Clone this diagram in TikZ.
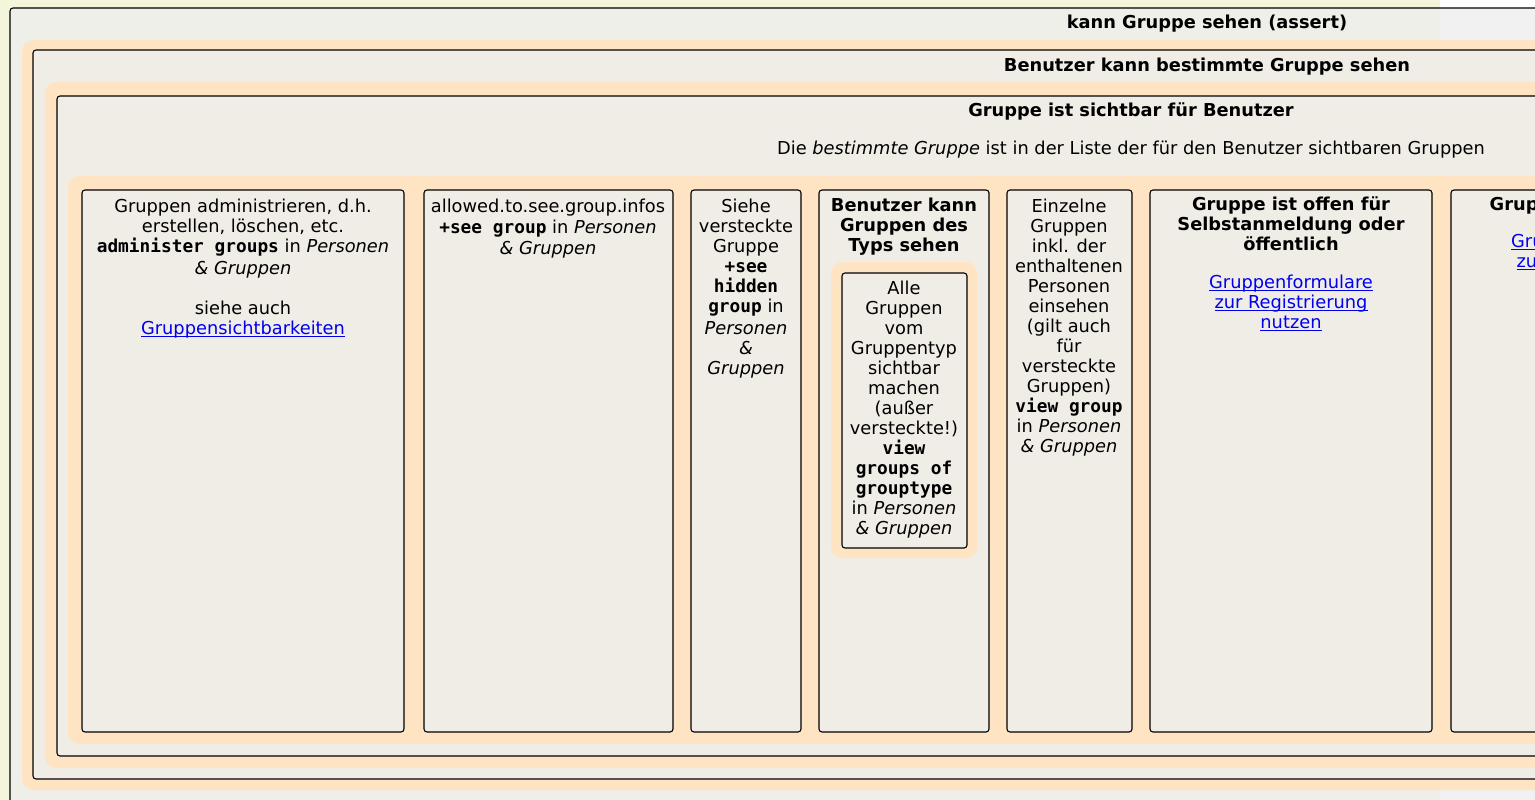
\documentclass[tikz,border=0pt]{standalone}
\usepackage{fontspec}
\setmainfont{DejaVu Sans}
\setmonofont{DejaVu Sans Mono}
\definecolor{bgyellow}{HTML}{F5F5DC}
\definecolor{outerfill}{HTML}{EFEFEA}
\definecolor{outerfillw}{HTML}{F1F1F1}
\definecolor{boxfill}{HTML}{F0EDE6}
\definecolor{halo}{HTML}{FFE4C4}
\definecolor{linkblue}{HTML}{0000EE}
\newcommand\mb[1]{\texttt{\bfseries #1}}
\newcommand\lnk[1]{\textcolor{linkblue}{\setbox0\hbox{#1}\rlap{\rule[-3pt]{\wd0}{1pt}}\box0}}
\begin{document}
\begin{tikzpicture}[x=1pt,y=-1pt,
  cluster/.style={draw=black, line width=1.1pt, fill=boxfill, rounded corners=3pt},
  halobox/.style={fill=halo, rounded corners=11pt},
  txt/.style={inner sep=0pt, align=center, font=\fontsize{17.8}{20}\selectfont},
  ttl/.style={txt, font=\fontsize{17.8}{20}\selectfont\bfseries}]
\useasboundingbox (0,0) rectangle (1535,800);
\clip (0,0) rectangle (1535,800);
% page background
\fill[bgyellow] (0,0) rectangle (1440,800);
\fill[white] (1440,0) rectangle (1535,800);
% outer cluster
\begin{scope}
\clip[rounded corners=3pt] (10,8) rectangle (1700,900);
\fill[outerfill] (10,8) rectangle (1440,900);
\fill[outerfillw] (1440,8) rectangle (1700,900);
\end{scope}
\draw[black, line width=1.1pt, rounded corners=3pt] (10,8) rectangle (1700,900);
\node[ttl] (l0) at (1207,23.5) {kann Gruppe sehen (assert)};
% level 2
\fill[halobox] (22,40) rectangle (1700,790);
\draw[cluster] (33,50) rectangle (1700,779);
\node[ttl] (l1) at (1207,66.5) {Benutzer kann bestimmte Gruppe sehen};
% level 3
\fill[halobox] (45,82) rectangle (1700,768);
\draw[cluster] (57,96) rectangle (1700,756);
\node[ttl] (l2) at (1131,111.5) {Gruppe ist sichtbar für Benutzer};
\node[txt] (l2b) at (1131,149.5) {Die \textit{bestimmte Gruppe} ist in der Liste der für den Benutzer sichtbaren Gruppen};
% level 4 halo
\fill[halobox] (68,176) rectangle (1700,744);
% boxes
\draw[cluster] (82,190) rectangle (404,732);
\draw[cluster] (424,190) rectangle (673,732);
\draw[cluster] (691,190) rectangle (801,732);
\draw[cluster] (819,190) rectangle (989,732);
\fill[halobox] (831,262) rectangle (977,558);
\draw[cluster] (842,273) rectangle (967,548);
\draw[cluster] (1007,190) rectangle (1132,732);
\draw[cluster] (1150,190) rectangle (1432,732);
\draw[cluster] (1451,190) rectangle (1800,732);
% texts
\node[txt, anchor=north] (b1) at (243,198.5) {Gruppen administrieren, d.h.\\erstellen, löschen, etc.\\\mb{administer groups} in \textit{Personen}\\[2pt]\textit{\& Gruppen}\\ \\siehe auch\\\lnk{Gruppensichtbarkeiten}};
\node[txt, anchor=north] (b2) at (548,198.5) {allowed.to.see.group.infos\\[1pt]\mb{+see group} in \textit{Personen}\\[1pt]\textit{\& Gruppen}};
\node[txt, anchor=north] (b3) at (746,198.5) {Siehe\\versteckte\\Gruppe\\\mb{+see}\\\mb{hidden}\\\mb{group} in\\[2pt]\textit{Personen}\\\textit{\&}\\\textit{Gruppen}};
\node[ttl, anchor=north] (b4) at (904,197.5) {Benutzer kann\\Gruppen des\\Typs sehen};
\node[txt, anchor=north] (b4i) at (904,280.5) {Alle\\Gruppen\\vom\\Gruppentyp\\sichtbar\\machen\\(außer\\versteckte!)\\\mb{view}\\\mb{groups of}\\\mb{grouptype}\\in \textit{Personen}\\\textit{\& Gruppen}};
\node[txt, anchor=north] (b5) at (1069,198.5) {Einzelne\\Gruppen\\inkl. der\\enthaltenen\\Personen\\einsehen\\(gilt auch\\für\\versteckte\\Gruppen)\\\mb{view group}\\in \textit{Personen}\\\textit{\& Gruppen}};
\node[ttl, anchor=north] (b6) at (1291,197) {Gruppe ist offen für\\Selbstanmeldung oder\\öffentlich};
\node[txt, anchor=north] (b6l) at (1291,274.5) {\lnk{Gruppenformulare}\\\lnk{zur Registrierung}\\\lnk{nutzen}};
\node[ttl, anchor=north] (b7) at (1593,197) {Gruppe ist öffentlich};
\node[txt, anchor=north] (b7l) at (1593,233.5) {\lnk{Gruppenformulare}\\\lnk{zur Registrierung}};
\end{tikzpicture}
\end{document}
